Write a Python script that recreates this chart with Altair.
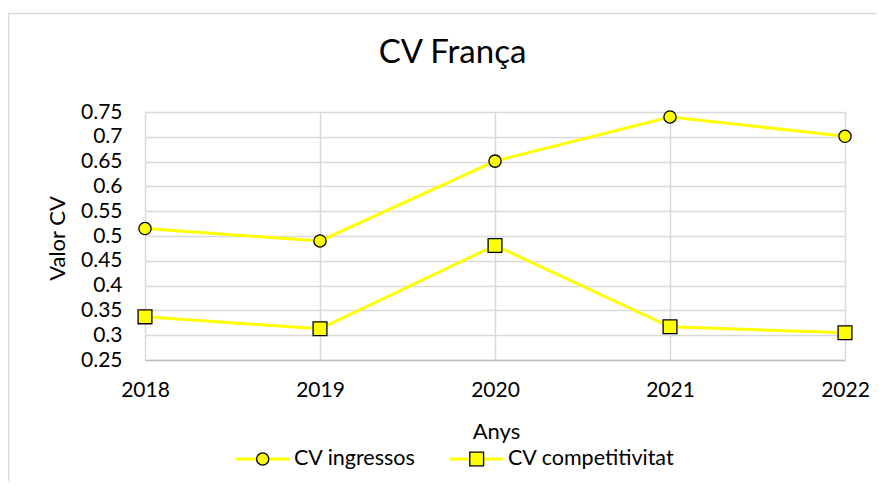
import altair as alt
import pandas as pd

years = [2018, 2019, 2020, 2021, 2022]
cv_ingressos = [0.515, 0.490, 0.651, 0.740, 0.701]
cv_competitivitat = [0.337, 0.313, 0.481, 0.317, 0.305]
series_names = ["CV ingressos", "CV competitivitat"]
y_ticks = [0.25, 0.3, 0.35, 0.4, 0.45, 0.5, 0.55, 0.6, 0.65, 0.7, 0.75]
title_text = "CV França"
x_title = "Anys"
y_title = "Valor CV"

rows = []
for name, vals in zip(series_names, [cv_ingressos, cv_competitivitat]):
    for yr, v in zip(years, vals):
        rows.append({"Any": yr, "Valor": v, "Serie": name})
df = pd.DataFrame(rows)

FONT = "Lato"
YEL = "#FFFF00"
GRID = "#d9d9d9"

x_enc = alt.X("Any:Q", scale=alt.Scale(domain=[years[0], years[-1]], nice=False, zero=False),
              axis=alt.Axis(values=years, tickCount=20, format="d", title=x_title, grid=True, gridColor=GRID,
                            gridWidth=1.5, domainColor="#bfbfbf", domainWidth=1.5, ticks=False,
                            tickSize=0, labelPadding=30, labelBaseline="middle", labelFontSize=21,
                            labelOverlap=False, labelBound=False, labelFlush=False,
                            labelFont=FONT, labelColor="#000", titleFont=FONT, titleFontSize=22,
                            titleFontWeight="normal", titleColor="#000", titleX=351, titleY=71,
                            titleBaseline="middle", titleAlign="center"))
y_enc = alt.Y("Valor:Q", scale=alt.Scale(domain=[0.25, 0.75], nice=False, zero=False),
              axis=alt.Axis(values=y_ticks, tickCount=30, format=".2~f", title=y_title, grid=True, gridColor=GRID,
                            gridWidth=1.5, domain=False, ticks=False, tickSize=0, labelPadding=23,
                            labelOverlap=False, labelBound=False, labelFlush=False,
                            labelFontSize=21, labelFont=FONT, labelColor="#000", titleFont=FONT,
                            titleFontSize=22, titleFontWeight="normal", titleColor="#000",
                            titleAngle=-90, titleX=-88, titleY=126, titleBaseline="middle",
                            titleAlign="center"))

base = alt.Chart(df)
lines = base.mark_line(strokeWidth=3).encode(
    x=x_enc, y=y_enc,
    color=alt.Color("Serie:N", scale=alt.Scale(domain=series_names, range=[YEL, YEL]), legend=None),
    detail="Serie:N",
)
points = base.mark_point(filled=True, fill=YEL, stroke="#000", strokeWidth=1.3, opacity=1).encode(
    x="Any:Q", y="Valor:Q",
    shape=alt.Shape("Serie:N", scale=alt.Scale(domain=series_names, range=["circle", "square"]), legend=None),
    size=alt.Size("Serie:N", scale=alt.Scale(domain=series_names, range=[150, 190]), legend=None),
)

leg = pd.DataFrame({"Serie": series_names})
legend_layers = []
specs = [(91, 145, 117.7, 149, "circle", 150), (305, 358, 331.7, 363, "square", 190)]
for (name, (xa, xb, xm, xt, shp, sz)) in zip(series_names, specs):
    d = leg[leg.Serie == name]
    legend_layers.append(alt.Chart(d).mark_rule(color=YEL, strokeWidth=3).encode(
        x=alt.value(xa), x2=alt.value(xb), y=alt.value(347)))
    legend_layers.append(alt.Chart(d).mark_point(shape=shp, filled=True, fill=YEL, stroke="#000",
                                                 strokeWidth=1.3, opacity=1, size=sz).encode(
        x=alt.value(xm), y=alt.value(347)))
    legend_layers.append(alt.Chart(d).mark_text(align="left", baseline="middle", font=FONT,
                                                fontSize=21.5, color="#000").encode(
        x=alt.value(xt), y=alt.value(347), text="Serie:N"))

title_layer = alt.Chart(pd.DataFrame({"t": [title_text]})).mark_text(
    align="center", baseline="alphabetic", font=FONT, fontSize=33, color="#000").encode(
    x=alt.value(307.5), y=alt.value(-49), text="t:N")

border = alt.Chart(pd.DataFrame({"t": [0]})).mark_rect(fill="transparent", stroke=GRID, strokeWidth=1.5).encode(
    x=alt.value(-136.5), x2=alt.value(800), y=alt.value(-98.5), y2=alt.value(500))

chart = alt.layer(border, lines, points, title_layer, *legend_layers).properties(
    width=700, height=248,
    autosize=alt.AutoSizeParams(type="none"),
    padding={"left": 137, "top": 104, "right": 32, "bottom": 121},
).configure_view(stroke=None)

chart.save("out.html", embed_options={"renderer": "svg", "actions": False})
